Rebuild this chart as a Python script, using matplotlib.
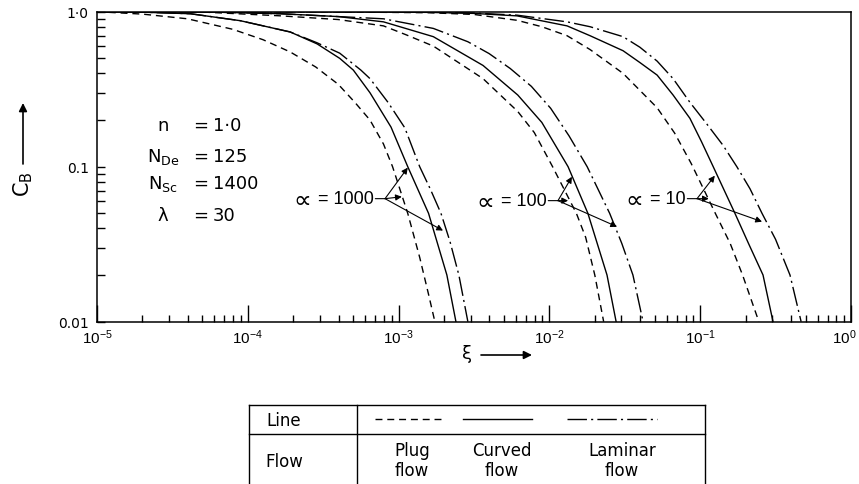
import matplotlib
matplotlib.use('Agg')
import matplotlib.pyplot as plt
import matplotlib.transforms as mtransforms
from matplotlib.ticker import LogLocator, NullFormatter

# xi values and C_B for each alpha / flow model
xi_1000_plug = [1e-5, 2.0e-5, 3.98e-5, 7.94e-5, 1.26e-4, 1.91e-4, 2.82e-4, 3.98e-4, 5.13e-4, 6.46e-4,
                7.94e-4, 9.12e-4, 1.15e-3, 1.38e-3, 1.58e-3, 1.74e-3]
cb_1000_plug = [1.0, 0.965, 0.90, 0.77, 0.66, 0.55, 0.44, 0.34, 0.26, 0.20,
                0.14, 0.10, 0.05, 0.026, 0.015, 0.01]
xi_1000_curved = [1e-5, 2.0e-5, 4.17e-5, 8.91e-5, 1.91e-4, 2.88e-4, 4.07e-4, 5.01e-4, 6.46e-4, 8.91e-4,
                  1.15e-3, 1.58e-3, 2.09e-3, 2.40e-3]
cb_1000_curved = [1.0, 0.993, 0.97, 0.875, 0.74, 0.62, 0.50, 0.42, 0.30, 0.18,
                  0.10, 0.05, 0.02, 0.01]
xi_1000_laminar = [1e-5, 2.0e-5, 4.17e-5, 8.91e-5, 1.91e-4, 2.88e-4, 4.07e-4, 5.62e-4, 6.46e-4, 8.51e-4,
                   1.10e-3, 1.38e-3, 1.62e-3, 1.91e-3, 2.19e-3, 2.51e-3, 2.88e-3]
cb_1000_laminar = [1.0, 0.993, 0.97, 0.875, 0.74, 0.63, 0.54, 0.42, 0.37, 0.26,
                   0.178, 0.10, 0.072, 0.05, 0.033, 0.02, 0.01]

xi_100_plug = [1e-5, 5.01e-5, 1.66e-4, 3.98e-4, 7.94e-4, 1.12e-3, 1.70e-3, 3.63e-3, 6.17e-3, 7.94e-3,
               1.05e-2, 1.51e-2, 1.74e-2, 2.00e-2, 2.29e-2]
cb_100_plug = [1.0, 0.995, 0.94, 0.89, 0.81, 0.71, 0.60, 0.37, 0.227, 0.166,
               0.10, 0.05, 0.035, 0.02, 0.01]
xi_100_curved = [1e-5, 5.01e-5, 1.66e-4, 3.98e-4, 7.94e-4, 1.70e-3, 3.63e-3, 6.17e-3, 8.91e-3, 1.33e-2,
                 1.80e-2, 2.41e-2, 2.77e-2]
cb_100_curved = [1.0, 0.998, 0.97, 0.93, 0.86, 0.69, 0.45, 0.29, 0.193, 0.10,
                 0.05, 0.02, 0.01]
xi_100_laminar = [1e-5, 5.01e-5, 1.66e-4, 7.94e-4, 1.70e-3, 2.88e-3, 3.98e-3, 5.50e-3, 7.59e-3, 1.02e-2,
                  1.35e-2, 1.78e-2, 2.51e-2, 3.02e-2, 3.58e-2, 4.18e-2]
cb_100_laminar = [1.0, 0.998, 0.97, 0.90, 0.78, 0.64, 0.537, 0.43, 0.33, 0.238,
                  0.158, 0.10, 0.05, 0.032, 0.02, 0.01]

xi_10_plug = [1e-5, 3.16e-4, 1.58e-3, 3.16e-3, 6.10e-3, 8.91e-3, 1.31e-2, 1.86e-2, 3.08e-2, 5.18e-2,
              6.76e-2, 8.71e-2, 1.26e-1, 1.58e-1, 1.91e-1, 2.45e-1]
cb_10_plug = [1.0, 0.998, 0.985, 0.96, 0.88, 0.80, 0.70, 0.57, 0.40, 0.24,
              0.165, 0.105, 0.05, 0.032, 0.02, 0.01]
xi_10_curved = [1e-5, 3.16e-4, 1.58e-3, 3.16e-3, 6.10e-3, 1.31e-2, 1.86e-2, 3.08e-2, 3.98e-2, 5.18e-2,
                6.61e-2, 8.55e-2, 1.02e-1, 1.22e-1, 1.70e-1, 2.09e-1, 2.61e-1, 3.04e-1]
cb_10_curved = [1.0, 0.999, 0.99, 0.975, 0.94, 0.81, 0.70, 0.56, 0.47, 0.39,
                0.29, 0.205, 0.145, 0.10, 0.05, 0.032, 0.02, 0.01]
xi_10_laminar = [1e-5, 3.16e-4, 1.58e-3, 3.16e-3, 6.10e-3, 1.31e-2, 1.86e-2, 3.08e-2, 3.98e-2, 5.18e-2,
                 6.61e-2, 8.55e-2, 1.10e-1, 1.42e-1, 1.75e-1, 2.14e-1, 2.57e-1, 3.16e-1, 3.94e-1, 4.67e-1]
cb_10_laminar = [1.0, 0.999, 0.995, 0.98, 0.95, 0.86, 0.80, 0.69, 0.59, 0.48,
                 0.37, 0.26, 0.19, 0.137, 0.10, 0.072, 0.05, 0.034, 0.02, 0.01]

alpha_values = [1000, 100, 10]
xtick_values = [1e-5, 1e-4, 1e-3, 1e-2, 1e-1, 1.0]
xtick_labels = [r'$\mathregular{10^{-5}}$', r'$\mathregular{10^{-4}}$', r'$\mathregular{10^{-3}}$',
                r'$\mathregular{10^{-2}}$', r'$\mathregular{10^{-1}}$', r'$\mathregular{10^{0}}$']
ytick_values = [0.01, 0.1, 1.0]
ytick_labels = ['0.01', '0.1', '1·0']
param_names = ['n', r'$\mathregular{N_{De}}$', r'$\mathregular{N_{Sc}}$', 'λ']
param_values = ['1·0', '125', '1400', '30']
flow_names = ['Plug\nflow', 'Curved\nflow', 'Laminar\nflow']

DASHED = (0, (5, 3.5))
DASHDOT = (0, (14, 3, 1.5, 3))
NARROW = ['Liberation Sans', 'DejaVu Sans']


def main():
    fig = plt.figure(figsize=(8.59, 4.85), dpi=100)
    W, H = 859.0, 485.0
    ax = fig.add_axes([97 / W, 1 - 322.7 / H, (851 - 97) / W, 310 / H])

    curves = {
        1000: [(xi_1000_plug, cb_1000_plug), (xi_1000_curved, cb_1000_curved), (xi_1000_laminar, cb_1000_laminar)],
        100: [(xi_100_plug, cb_100_plug), (xi_100_curved, cb_100_curved), (xi_100_laminar, cb_100_laminar)],
        10: [(xi_10_plug, cb_10_plug), (xi_10_curved, cb_10_curved), (xi_10_laminar, cb_10_laminar)],
    }
    styles = [DASHED, '-', DASHDOT]
    for a in alpha_values:
        for (x, y), ls in zip(curves[a], styles):
            ax.plot(x, y, color='k', lw=1.0, linestyle=ls)

    ax.set_xscale('log')
    ax.set_yscale('log')
    ax.set_xlim(1e-5, 1)
    ax.set_ylim(0.01, 1.0)
    ax.set_xticks(xtick_values, xtick_labels)
    ax.xaxis.set_minor_locator(LogLocator(base=10, subs=range(2, 10), numticks=50))
    ax.xaxis.set_minor_formatter(NullFormatter())
    ax.set_yticks(ytick_values, ytick_labels)
    ax.yaxis.set_minor_locator(LogLocator(base=10, subs=range(2, 10), numticks=50))
    ax.yaxis.set_minor_formatter(NullFormatter())
    ax.tick_params(axis='x', which='major', direction='in', length=12, width=1.0, labelsize=11, pad=4)
    ax.tick_params(axis='x', which='minor', direction='in', length=5, width=1.0)
    ax.tick_params(axis='y', which='both', direction='in', length=6, width=1.0, labelsize=10, pad=6)
    xlabels = ax.get_xticklabels()
    for lab in xlabels:
        lab.set_family(NARROW)
    # keep the last label inside the figure
    xlabels[-1].set_transform(xlabels[-1].get_transform()
                              + mtransforms.ScaledTranslation(-5 / 72, 0, fig.dpi_scale_trans))
    for s in ax.spines.values():
        s.set_linewidth(1.1)

    # alpha labels with arrows to the three curves
    junctions = {1000: (8.13e-4, 0.0622), 100: (1.14e-2, 0.0604), 10: (9.53e-2, 0.0622)}
    tips = {
        1000: [(1.05e-3, 0.064), (1.15e-3, 0.0986), (1.97e-3, 0.0387)],
        100: [(1.33e-2, 0.0604), (1.41e-2, 0.0861), (2.81e-2, 0.041)],
        10: [(0.114, 0.0622), (0.125, 0.0875), (0.257, 0.0442)],
    }
    renderer = fig.canvas.get_renderer()
    for a in alpha_values:
        j = junctions[a]
        t = ax.annotate('= %d' % a, xy=j, xytext=(-8, 0), textcoords='offset points',
                        ha='right', va='center', fontsize=13, family=NARROW)
        w = t.get_window_extent(renderer).width * 72.0 / fig.dpi
        ax.annotate('∝', xy=j, xytext=(-8 - w - 5, -1), textcoords='offset points',
                    ha='right', va='center', fontsize=18)
        # short leader from the label to the arrow origin
        ax.annotate('', xy=j, xytext=(-7, 0), textcoords='offset points',
                    arrowprops=dict(arrowstyle='-', lw=0.8, color='k', shrinkA=0, shrinkB=0))
        for tip in tips[a]:
            ax.annotate('', xy=tip, xytext=j,
                        arrowprops=dict(arrowstyle='-|>', lw=0.8, color='k',
                                        mutation_scale=9, shrinkA=0, shrinkB=0))

    # overlay in pixel coordinates for labels and the legend table
    ov = fig.add_axes([0, 0, 1, 1])
    ov.set_xlim(0, W)
    ov.set_ylim(H, 0)
    ov.axis('off')
    ov.patch.set_visible(False)

    baselines = [131, 162, 189, 221]
    for name, val, yb in zip(param_names, param_values, baselines):
        ov.text(163, yb, name, ha='center', va='baseline', fontsize=13)
        ov.text(201, yb, '=', ha='center', va='baseline', fontsize=13)
        ov.text(213, yb, val, ha='left', va='baseline', fontsize=13)

    # y label with arrow
    ov.text(23, 184, r'$\mathregular{C_B}$', rotation=90, ha='center', va='center', fontsize=15)
    ov.annotate('', xy=(23, 104), xytext=(23, 165),
                arrowprops=dict(arrowstyle='-|>', lw=1.2, color='k', mutation_scale=12, shrinkA=0, shrinkB=0))
    # x label with arrow
    ov.text(467, 354, 'ξ', ha='center', va='center', fontsize=13)
    ov.annotate('', xy=(532, 356), xytext=(481, 356),
                arrowprops=dict(arrowstyle='-|>', lw=1.2, color='k', mutation_scale=12, shrinkA=0, shrinkB=0))

    # legend table
    tl, td, tr, tt, tm = 249, 357, 705, 406, 435
    ov.plot([tl, tr], [tt, tt], color='k', lw=1.0)
    ov.plot([tl, tr], [tm, tm], color='k', lw=1.0)
    for xv in (tl, td, tr):
        ov.plot([xv, xv], [tt, H + 2], color='k', lw=1.0)
    ov.text(284, 421, 'Line', ha='center', va='center', fontsize=12)
    ov.text(284, 462, 'Flow', ha='center', va='center', fontsize=12)
    samples = [(375, 442), (463, 532), (567, 657)]
    centers = [412, 502, 622]
    for (x0, x1), ls, c, name in zip(samples, styles, centers, flow_names):
        ov.plot([x0, x1], [420, 420], color='k', lw=1.0, linestyle=ls)
        ov.text(c, 461, name, ha='center', va='center', fontsize=12, linespacing=1.1)

    fig.savefig('out.png', dpi=100)


if __name__ == '__main__':
    main()
